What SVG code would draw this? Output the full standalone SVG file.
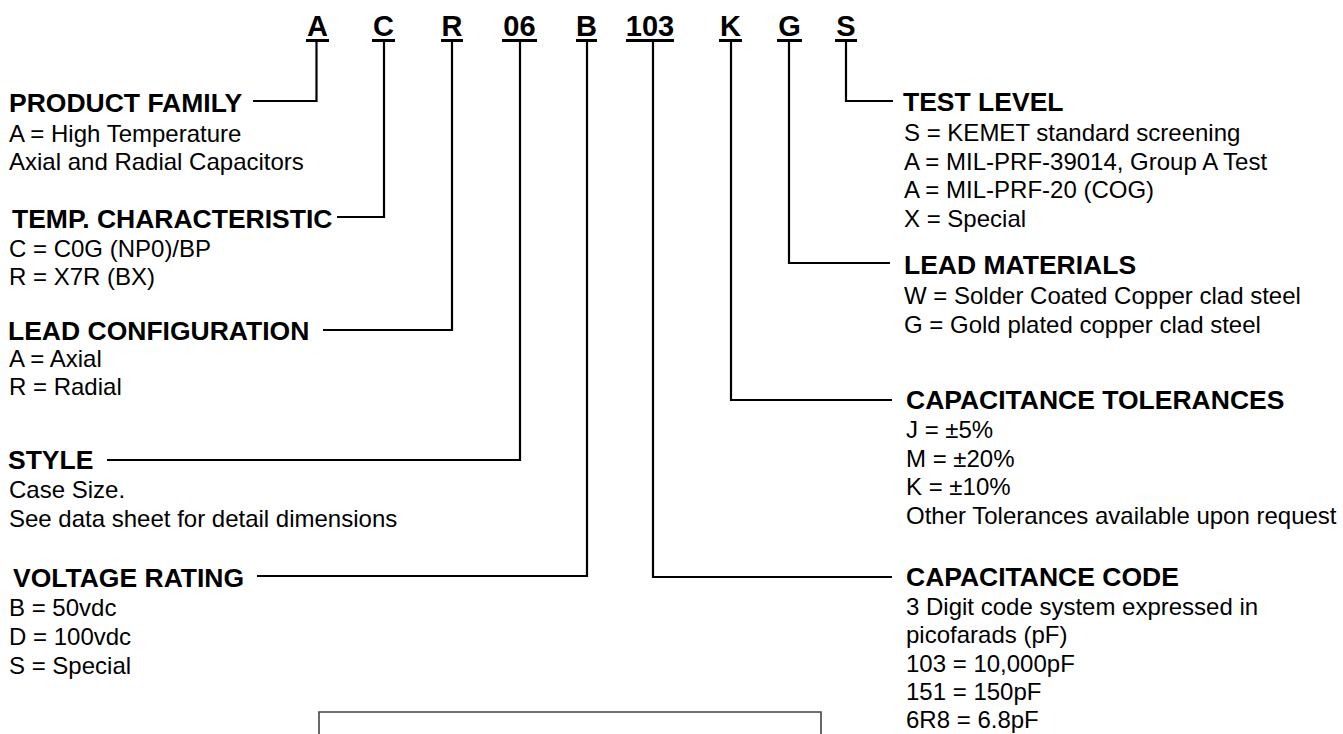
<svg xmlns="http://www.w3.org/2000/svg" width="1343" height="734" viewBox="0 0 1343 734">
<style>
text{font-family:"Liberation Sans",Arial,Helvetica,sans-serif;fill:#000}
.code{font-size:29px;font-weight:bold;text-anchor:middle}
.h{font-size:26.5px;font-weight:bold}
.b{font-size:24px}
.ul{stroke:#000;stroke-width:3;fill:none}
.ln{stroke:#000;stroke-width:2.2;fill:none}
.box{stroke:#444;stroke-width:1.6;fill:none}
</style>
<rect width="1343" height="734" fill="#fff"/>
<g id="code">
<text class="code" x="317.5" y="36">A</text>
<text class="code" x="383.5" y="36">C</text>
<text class="code" x="452" y="36">R</text>
<text class="code" x="519.5" y="36">06</text>
<text class="code" x="586.5" y="36">B</text>
<text class="code" x="650" y="36">103</text>
<text class="code" x="730.5" y="36">K</text>
<text class="code" x="789.5" y="36">G</text>
<text class="code" x="846" y="36">S</text>
<path class="ul" d="M306 40.5H329M372 40.5H395M441 40.5H463M502 40.5H537M576 40.5H597M626 40.5H674M719 40.5H742M777 40.5H802M835 40.5H857"/>
</g>
<g id="connectors">
<path class="ln" d="M316.5 42V101H253"/>
<path class="ln" d="M384 42V217H337"/>
<path class="ln" d="M452 42V330H323"/>
<path class="ln" d="M520 42V460H107"/>
<path class="ln" d="M587 42V576H257"/>
<path class="ln" d="M653 42V577H892"/>
<path class="ln" d="M731 42V400H892"/>
<path class="ln" d="M789 42V263H890"/>
<path class="ln" d="M846 42V101H893"/>
</g>
<g id="product-family">
<text class="h" x="9" y="112">PRODUCT FAMILY</text>
<text class="b" x="9" y="142">A = High Temperature</text>
<text class="b" x="9" y="170">Axial and Radial Capacitors</text>
</g>
<g id="temp-characteristic">
<text class="h" x="12" y="228">TEMP. CHARACTERISTIC</text>
<text class="b" x="9" y="257">C = C0G (NP0)/BP</text>
<text class="b" x="9" y="285">R = X7R (BX)</text>
</g>
<g id="lead-configuration">
<text class="h" x="8" y="340">LEAD CONFIGURATION</text>
<text class="b" x="9" y="367">A = Axial</text>
<text class="b" x="9" y="395">R = Radial</text>
</g>
<g id="style">
<text class="h" x="8" y="469">STYLE</text>
<text class="b" x="9" y="498">Case Size.</text>
<text class="b" x="9" y="527">See data sheet for detail dimensions</text>
</g>
<g id="voltage-rating">
<text class="h" x="13" y="587">VOLTAGE RATING</text>
<text class="b" x="9" y="616">B = 50vdc</text>
<text class="b" x="9" y="645">D = 100vdc</text>
<text class="b" x="9" y="674">S = Special</text>
</g>
<g id="test-level">
<text class="h" x="903" y="111">TEST LEVEL</text>
<text class="b" x="904" y="141">S = KEMET standard screening</text>
<text class="b" x="904" y="170">A = MIL-PRF-39014, Group A Test</text>
<text class="b" x="904" y="198">A = MIL-PRF-20 (COG)</text>
<text class="b" x="904" y="227">X = Special</text>
</g>
<g id="lead-materials">
<text class="h" x="904" y="274">LEAD MATERIALS</text>
<text class="b" x="904" y="304">W = Solder Coated Copper clad steel</text>
<text class="b" x="904" y="333">G = Gold plated copper clad steel</text>
</g>
<g id="capacitance-tolerances">
<text class="h" x="906" y="409">CAPACITANCE TOLERANCES</text>
<text class="b" x="906" y="438">J = ±5%</text>
<text class="b" x="906" y="467">M = ±20%</text>
<text class="b" x="906" y="495">K = ±10%</text>
<text class="b" x="906" y="524">Other Tolerances available upon request</text>
</g>
<g id="capacitance-code">
<text class="h" x="906" y="586">CAPACITANCE CODE</text>
<text class="b" x="906" y="615">3 Digit code system expressed in</text>
<text class="b" x="906" y="643">picofarads (pF)</text>
<text class="b" x="906" y="672">103 = 10,000pF</text>
<text class="b" x="906" y="700">151 = 150pF</text>
<text class="b" x="906" y="728">6R8 = 6.8pF</text>
</g>
<g id="box">
<path class="box" d="M319 740V712H821V740"/>
</g>
</svg>
